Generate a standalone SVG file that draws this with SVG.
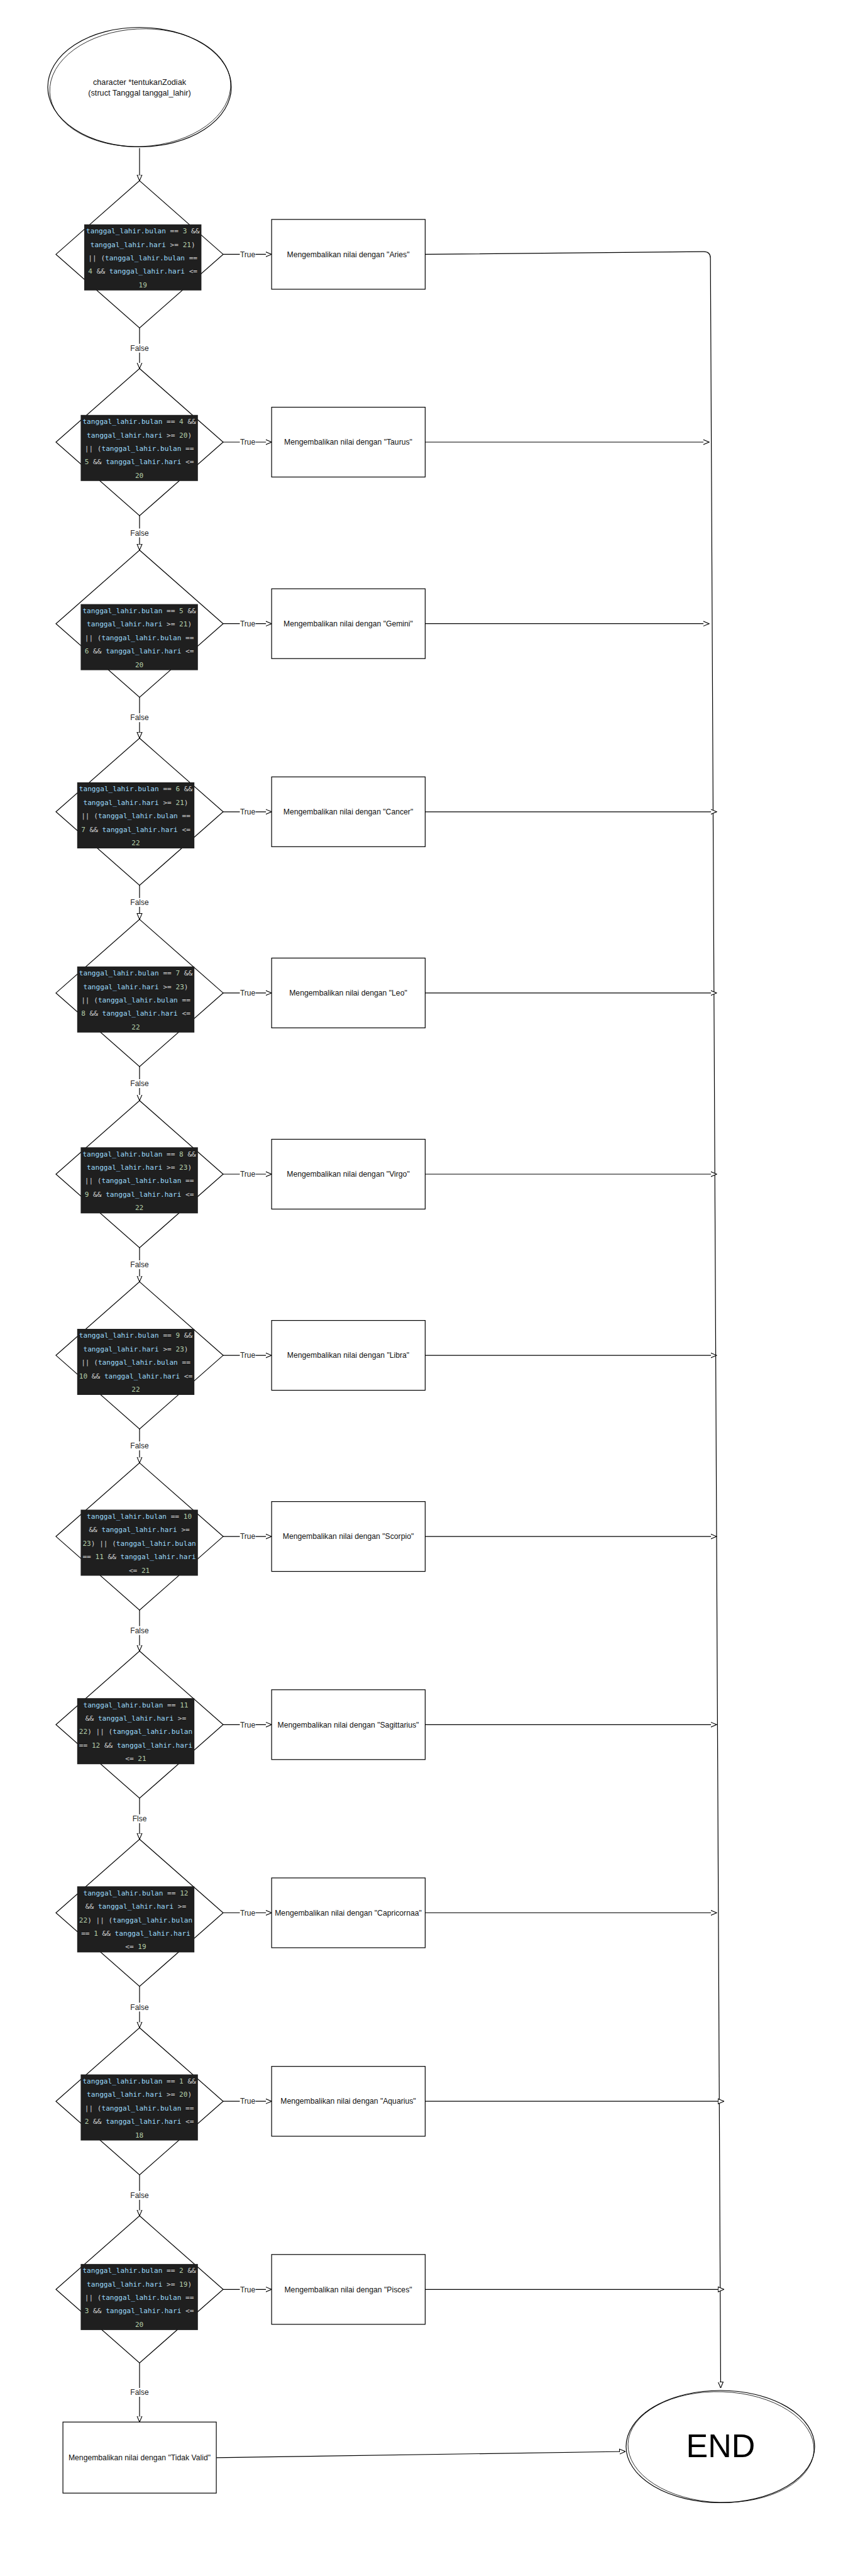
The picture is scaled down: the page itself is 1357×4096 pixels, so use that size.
<svg xmlns="http://www.w3.org/2000/svg" width="1357" height="4096" viewBox="0 0 1357 4096">
<style>
.sh{fill:#fff;stroke:#000;stroke-width:1.2}
.sk{fill:none;stroke:#000;stroke-width:0.8}
.cb{fill:#1f1f1f}
.code{font-family:"DejaVu Sans Mono","Liberation Mono",monospace;font-size:11.1px;fill:#D4D4D4;text-anchor:middle}
.v{fill:#9CDCFE}
.n{fill:#B5CEA8}
.bt{font-family:"Liberation Sans",Arial,sans-serif;font-size:12.2px;fill:#111;text-anchor:middle}
.st{font-family:"Liberation Sans",Arial,sans-serif;font-size:12.7px;fill:#111;text-anchor:middle}
.lb{font-family:"Liberation Sans",Arial,sans-serif;font-size:12px;fill:#222;text-anchor:middle}
.lbg{fill:#fff}
.ed{fill:none;stroke:#000;stroke-width:1.2}
</style>
<defs>
<marker id="arr" viewBox="0 0 10 10" refX="9.5" refY="5" markerWidth="10" markerHeight="10" orient="auto" markerUnits="userSpaceOnUse"><path d="M0,1 L9.5,5 L0,9 Z" fill="#fff" stroke="#000" stroke-width="1.1"/></marker>
</defs>
<rect width="1357" height="4096" fill="#fff"/>

<g id="connectors">
<path class="ed" d="M222,235.5 V287.4" marker-end="url(#arr)"/>
<path class="ed" d="M222,521.4 V586" marker-end="url(#arr)"/>
<path class="ed" d="M222,820 V874.7" marker-end="url(#arr)"/>
<path class="ed" d="M222,1108.7 V1173.8" marker-end="url(#arr)"/>
<path class="ed" d="M222,1407.8 V1461.9" marker-end="url(#arr)"/>
<path class="ed" d="M222,1695.9 V1750" marker-end="url(#arr)"/>
<path class="ed" d="M222,1984 V2038.1" marker-end="url(#arr)"/>
<path class="ed" d="M222,2272.1 V2326.1" marker-end="url(#arr)"/>
<path class="ed" d="M222,2560.1 V2625.3" marker-end="url(#arr)"/>
<path class="ed" d="M222,2859.3 V2924.5" marker-end="url(#arr)"/>
<path class="ed" d="M222,3158.5 V3224.2" marker-end="url(#arr)"/>
<path class="ed" d="M222,3458.2 V3523.3" marker-end="url(#arr)"/>
<path class="ed" d="M222,3757.3 V3851.2" marker-end="url(#arr)"/>

<path class="ed" d="M355,404.4 H432" marker-end="url(#arr)"/>
<path class="ed" d="M355,703 H432" marker-end="url(#arr)"/>
<path class="ed" d="M355,991.7 H432" marker-end="url(#arr)"/>
<path class="ed" d="M355,1290.8 H432" marker-end="url(#arr)"/>
<path class="ed" d="M355,1578.9 H432" marker-end="url(#arr)"/>
<path class="ed" d="M355,1867 H432" marker-end="url(#arr)"/>
<path class="ed" d="M355,2155.1 H432" marker-end="url(#arr)"/>
<path class="ed" d="M355,2443.1 H432" marker-end="url(#arr)"/>
<path class="ed" d="M355,2742.3 H432" marker-end="url(#arr)"/>
<path class="ed" d="M355,3041.5 H432" marker-end="url(#arr)"/>
<path class="ed" d="M355,3341.2 H432" marker-end="url(#arr)"/>
<path class="ed" d="M355,3640.3 H432" marker-end="url(#arr)"/>

<path class="ed" d="M676.4,404.4 L1119.5,400.2 Q1130.2,400.2 1130.2,410.5 L1146.5,3797" marker-end="url(#arr)"/>
<path class="ed" d="M676.4,703 H1128" marker-end="url(#arr)"/>
<path class="ed" d="M676.4,991.7 H1128" marker-end="url(#arr)"/>
<path class="ed" d="M676.4,1290.8 H1140" marker-end="url(#arr)"/>
<path class="ed" d="M676.4,1578.9 H1140" marker-end="url(#arr)"/>
<path class="ed" d="M676.4,1867 H1140" marker-end="url(#arr)"/>
<path class="ed" d="M676.4,2155.1 H1140" marker-end="url(#arr)"/>
<path class="ed" d="M676.4,2443.1 H1140" marker-end="url(#arr)"/>
<path class="ed" d="M676.4,2742.3 H1140" marker-end="url(#arr)"/>
<path class="ed" d="M676.4,3041.5 H1140" marker-end="url(#arr)"/>
<path class="ed" d="M676.4,3341.2 H1151.8" marker-end="url(#arr)"/>
<path class="ed" d="M676.4,3640.3 H1151.8" marker-end="url(#arr)"/>
<path class="ed" d="M344.1,3907.9 L995,3898" marker-end="url(#arr)"/>

<g id="edge-labels">
<rect class="lbg" x="381.5" y="397.4" width="25" height="14"/><text class="lb" x="394" y="408.6">True</text>
<rect class="lbg" x="381.5" y="696" width="25" height="14"/><text class="lb" x="394" y="707.2">True</text>
<rect class="lbg" x="381.5" y="984.7" width="25" height="14"/><text class="lb" x="394" y="995.9">True</text>
<rect class="lbg" x="381.5" y="1283.8" width="25" height="14"/><text class="lb" x="394" y="1295">True</text>
<rect class="lbg" x="381.5" y="1571.9" width="25" height="14"/><text class="lb" x="394" y="1583.1">True</text>
<rect class="lbg" x="381.5" y="1860" width="25" height="14"/><text class="lb" x="394" y="1871.2">True</text>
<rect class="lbg" x="381.5" y="2148.1" width="25" height="14"/><text class="lb" x="394" y="2159.3">True</text>
<rect class="lbg" x="381.5" y="2436.1" width="25" height="14"/><text class="lb" x="394" y="2447.3">True</text>
<rect class="lbg" x="381.5" y="2735.3" width="25" height="14"/><text class="lb" x="394" y="2746.5">True</text>
<rect class="lbg" x="381.5" y="3034.5" width="25" height="14"/><text class="lb" x="394" y="3045.7">True</text>
<rect class="lbg" x="381.5" y="3334.2" width="25" height="14"/><text class="lb" x="394" y="3345.4">True</text>
<rect class="lbg" x="381.5" y="3633.3" width="25" height="14"/><text class="lb" x="394" y="3644.5">True</text>

<rect class="lbg" x="206" y="546.7" width="32" height="14"/><text class="lb" x="222" y="557.9">False</text>
<rect class="lbg" x="206" y="840.4" width="32" height="14"/><text class="lb" x="222" y="851.6">False</text>
<rect class="lbg" x="206" y="1134.2" width="32" height="14"/><text class="lb" x="222" y="1145.4">False</text>
<rect class="lbg" x="206" y="1427.9" width="32" height="14"/><text class="lb" x="222" y="1439.1">False</text>
<rect class="lbg" x="206" y="1716" width="32" height="14"/><text class="lb" x="222" y="1727.2">False</text>
<rect class="lbg" x="206" y="2004" width="32" height="14"/><text class="lb" x="222" y="2015.2">False</text>
<rect class="lbg" x="206" y="2292.1" width="32" height="14"/><text class="lb" x="222" y="2303.3">False</text>
<rect class="lbg" x="206" y="2585.7" width="32" height="14"/><text class="lb" x="222" y="2596.9">False</text>
<rect class="lbg" x="209" y="2884.9" width="26" height="14"/><text class="lb" x="222" y="2896.1">Flse</text>
<rect class="lbg" x="206" y="3184.4" width="32" height="14"/><text class="lb" x="222" y="3195.6">False</text>
<rect class="lbg" x="206" y="3483.8" width="32" height="14"/><text class="lb" x="222" y="3495">False</text>
<rect class="lbg" x="206" y="3797" width="32" height="14"/><text class="lb" x="222" y="3808.2">False</text>
</g>
</g>

<g id="start">
<ellipse class="sh" cx="222" cy="138.5" rx="146" ry="95"/>
<ellipse class="sk" cx="223" cy="139.5" rx="144" ry="93.5" transform="rotate(-3 222 138.5)"/>
<text class="st" x="222" y="134.6">character *tentukanZodiak</text>
<text class="st" x="222" y="152.4">(struct Tanggal tanggal_lahir)</text>
</g>

<g id="d1">
<polygon class="sh" points="222,287.4 355,404.4 222,521.4 89,404.4"/>
<g transform="translate(227.2,356.8)"><rect class="cb" x="-93.2" y="0" width="186.4" height="105"/>
<text class="code" xml:space="preserve" y="14.4"><tspan class="v">tanggal_lahir.bulan</tspan> == <tspan class="n">3</tspan> &amp;&amp;</text>
<text class="code" xml:space="preserve" y="35.8"><tspan class="v">tanggal_lahir.hari</tspan> &gt;= <tspan class="n">21</tspan>)</text>
<text class="code" xml:space="preserve" y="57.2">|| (<tspan class="v">tanggal_lahir.bulan</tspan> ==</text>
<text class="code" xml:space="preserve" y="78.6"><tspan class="n">4</tspan> &amp;&amp; <tspan class="v">tanggal_lahir.hari</tspan> &lt;=</text>
<text class="code" xml:space="preserve" y="100"><tspan class="n">19</tspan></text></g>
</g>
<g id="r1"><rect class="sh" x="432.1" y="348.9" width="244.3" height="111"/><text class="bt" x="554" y="408.6">Mengembalikan nilai dengan "Aries"</text></g>

<g id="d2">
<polygon class="sh" points="222,586 355,703 222,820 89,703"/>
<g transform="translate(221.6,659.8)"><rect class="cb" x="-93.2" y="0" width="186.4" height="105"/>
<text class="code" xml:space="preserve" y="14.4"><tspan class="v">tanggal_lahir.bulan</tspan> == <tspan class="n">4</tspan> &amp;&amp;</text>
<text class="code" xml:space="preserve" y="35.8"><tspan class="v">tanggal_lahir.hari</tspan> &gt;= <tspan class="n">20</tspan>)</text>
<text class="code" xml:space="preserve" y="57.2">|| (<tspan class="v">tanggal_lahir.bulan</tspan> ==</text>
<text class="code" xml:space="preserve" y="78.6"><tspan class="n">5</tspan> &amp;&amp; <tspan class="v">tanggal_lahir.hari</tspan> &lt;=</text>
<text class="code" xml:space="preserve" y="100"><tspan class="n">20</tspan></text></g>
</g>
<g id="r2"><rect class="sh" x="432.1" y="647.5" width="244.3" height="111"/><text class="bt" x="554" y="707.2">Mengembalikan nilai dengan "Taurus"</text></g>

<g id="d3">
<polygon class="sh" points="222,874.7 355,991.7 222,1108.7 89,991.7"/>
<g transform="translate(221.6,960.6)"><rect class="cb" x="-93.2" y="0" width="186.4" height="105"/>
<text class="code" xml:space="preserve" y="14.4"><tspan class="v">tanggal_lahir.bulan</tspan> == <tspan class="n">5</tspan> &amp;&amp;</text>
<text class="code" xml:space="preserve" y="35.8"><tspan class="v">tanggal_lahir.hari</tspan> &gt;= <tspan class="n">21</tspan>)</text>
<text class="code" xml:space="preserve" y="57.2">|| (<tspan class="v">tanggal_lahir.bulan</tspan> ==</text>
<text class="code" xml:space="preserve" y="78.6"><tspan class="n">6</tspan> &amp;&amp; <tspan class="v">tanggal_lahir.hari</tspan> &lt;=</text>
<text class="code" xml:space="preserve" y="100"><tspan class="n">20</tspan></text></g>
</g>
<g id="r3"><rect class="sh" x="432.1" y="936.2" width="244.3" height="111"/><text class="bt" x="554" y="995.9">Mengembalikan nilai dengan "Gemini"</text></g>

<g id="d4">
<polygon class="sh" points="222,1173.8 355,1290.8 222,1407.8 89,1290.8"/>
<g transform="translate(216,1244)"><rect class="cb" x="-93.2" y="0" width="186.4" height="105"/>
<text class="code" xml:space="preserve" y="14.4"><tspan class="v">tanggal_lahir.bulan</tspan> == <tspan class="n">6</tspan> &amp;&amp;</text>
<text class="code" xml:space="preserve" y="35.8"><tspan class="v">tanggal_lahir.hari</tspan> &gt;= <tspan class="n">21</tspan>)</text>
<text class="code" xml:space="preserve" y="57.2">|| (<tspan class="v">tanggal_lahir.bulan</tspan> ==</text>
<text class="code" xml:space="preserve" y="78.6"><tspan class="n">7</tspan> &amp;&amp; <tspan class="v">tanggal_lahir.hari</tspan> &lt;=</text>
<text class="code" xml:space="preserve" y="100"><tspan class="n">22</tspan></text></g>
</g>
<g id="r4"><rect class="sh" x="432.1" y="1235.3" width="244.3" height="111"/><text class="bt" x="554" y="1295">Mengembalikan nilai dengan "Cancer"</text></g>

<g id="d5">
<polygon class="sh" points="222,1461.9 355,1578.9 222,1695.9 89,1578.9"/>
<g transform="translate(216,1536.8)"><rect class="cb" x="-93.2" y="0" width="186.4" height="105"/>
<text class="code" xml:space="preserve" y="14.4"><tspan class="v">tanggal_lahir.bulan</tspan> == <tspan class="n">7</tspan> &amp;&amp;</text>
<text class="code" xml:space="preserve" y="35.8"><tspan class="v">tanggal_lahir.hari</tspan> &gt;= <tspan class="n">23</tspan>)</text>
<text class="code" xml:space="preserve" y="57.2">|| (<tspan class="v">tanggal_lahir.bulan</tspan> ==</text>
<text class="code" xml:space="preserve" y="78.6"><tspan class="n">8</tspan> &amp;&amp; <tspan class="v">tanggal_lahir.hari</tspan> &lt;=</text>
<text class="code" xml:space="preserve" y="100"><tspan class="n">22</tspan></text></g>
</g>
<g id="r5"><rect class="sh" x="432.1" y="1523.4" width="244.3" height="111"/><text class="bt" x="554" y="1583.1">Mengembalikan nilai dengan "Leo"</text></g>

<g id="d6">
<polygon class="sh" points="222,1750 355,1867 222,1984 89,1867"/>
<g transform="translate(221.6,1824.3)"><rect class="cb" x="-93.2" y="0" width="186.4" height="105"/>
<text class="code" xml:space="preserve" y="14.4"><tspan class="v">tanggal_lahir.bulan</tspan> == <tspan class="n">8</tspan> &amp;&amp;</text>
<text class="code" xml:space="preserve" y="35.8"><tspan class="v">tanggal_lahir.hari</tspan> &gt;= <tspan class="n">23</tspan>)</text>
<text class="code" xml:space="preserve" y="57.2">|| (<tspan class="v">tanggal_lahir.bulan</tspan> ==</text>
<text class="code" xml:space="preserve" y="78.6"><tspan class="n">9</tspan> &amp;&amp; <tspan class="v">tanggal_lahir.hari</tspan> &lt;=</text>
<text class="code" xml:space="preserve" y="100"><tspan class="n">22</tspan></text></g>
</g>
<g id="r6"><rect class="sh" x="432.1" y="1811.5" width="244.3" height="111"/><text class="bt" x="554" y="1871.2">Mengembalikan nilai dengan "Virgo"</text></g>

<g id="d7">
<polygon class="sh" points="222,2038.1 355,2155.1 222,2272.1 89,2155.1"/>
<g transform="translate(216,2113)"><rect class="cb" x="-93.2" y="0" width="186.4" height="105"/>
<text class="code" xml:space="preserve" y="14.4"><tspan class="v">tanggal_lahir.bulan</tspan> == <tspan class="n">9</tspan> &amp;&amp;</text>
<text class="code" xml:space="preserve" y="35.8"><tspan class="v">tanggal_lahir.hari</tspan> &gt;= <tspan class="n">23</tspan>)</text>
<text class="code" xml:space="preserve" y="57.2">|| (<tspan class="v">tanggal_lahir.bulan</tspan> ==</text>
<text class="code" xml:space="preserve" y="78.6"><tspan class="n">10</tspan> &amp;&amp; <tspan class="v">tanggal_lahir.hari</tspan> &lt;=</text>
<text class="code" xml:space="preserve" y="100"><tspan class="n">22</tspan></text></g>
</g>
<g id="r7"><rect class="sh" x="432.1" y="2099.6" width="244.3" height="111"/><text class="bt" x="554" y="2159.3">Mengembalikan nilai dengan "Libra"</text></g>

<g id="d8">
<polygon class="sh" points="222,2326.1 355,2443.1 222,2560.1 89,2443.1"/>
<g transform="translate(221.6,2400.5)"><rect class="cb" x="-93.2" y="0" width="186.4" height="105"/>
<text class="code" xml:space="preserve" y="14.4"><tspan class="v">tanggal_lahir.bulan</tspan> == <tspan class="n">10</tspan></text>
<text class="code" xml:space="preserve" y="35.8">&amp;&amp; <tspan class="v">tanggal_lahir.hari</tspan> &gt;=</text>
<text class="code" xml:space="preserve" y="57.2"><tspan class="n">23</tspan>) || (<tspan class="v">tanggal_lahir.bulan</tspan></text>
<text class="code" xml:space="preserve" y="78.6">== <tspan class="n">11</tspan> &amp;&amp; <tspan class="v">tanggal_lahir.hari</tspan></text>
<text class="code" xml:space="preserve" y="100">&lt;= <tspan class="n">21</tspan></text></g>
</g>
<g id="r8"><rect class="sh" x="432.1" y="2387.6" width="244.3" height="111"/><text class="bt" x="554" y="2447.3">Mengembalikan nilai dengan "Scorpio"</text></g>

<g id="d9">
<polygon class="sh" points="222,2625.3 355,2742.3 222,2859.3 89,2742.3"/>
<g transform="translate(216,2700.2)"><rect class="cb" x="-93.2" y="0" width="186.4" height="105"/>
<text class="code" xml:space="preserve" y="14.4"><tspan class="v">tanggal_lahir.bulan</tspan> == <tspan class="n">11</tspan></text>
<text class="code" xml:space="preserve" y="35.8">&amp;&amp; <tspan class="v">tanggal_lahir.hari</tspan> &gt;=</text>
<text class="code" xml:space="preserve" y="57.2"><tspan class="n">22</tspan>) || (<tspan class="v">tanggal_lahir.bulan</tspan></text>
<text class="code" xml:space="preserve" y="78.6">== <tspan class="n">12</tspan> &amp;&amp; <tspan class="v">tanggal_lahir.hari</tspan></text>
<text class="code" xml:space="preserve" y="100">&lt;= <tspan class="n">21</tspan></text></g>
</g>
<g id="r9"><rect class="sh" x="432.1" y="2686.8" width="244.3" height="111"/><text class="bt" x="554" y="2746.5">Mengembalikan nilai dengan "Sagittarius"</text></g>

<g id="d10">
<polygon class="sh" points="222,2924.5 355,3041.5 222,3158.5 89,3041.5"/>
<g transform="translate(216,2999.4)"><rect class="cb" x="-93.2" y="0" width="186.4" height="105"/>
<text class="code" xml:space="preserve" y="14.4"><tspan class="v">tanggal_lahir.bulan</tspan> == <tspan class="n">12</tspan></text>
<text class="code" xml:space="preserve" y="35.8">&amp;&amp; <tspan class="v">tanggal_lahir.hari</tspan> &gt;=</text>
<text class="code" xml:space="preserve" y="57.2"><tspan class="n">22</tspan>) || (<tspan class="v">tanggal_lahir.bulan</tspan></text>
<text class="code" xml:space="preserve" y="78.6">== <tspan class="n">1</tspan> &amp;&amp; <tspan class="v">tanggal_lahir.hari</tspan></text>
<text class="code" xml:space="preserve" y="100">&lt;= <tspan class="n">19</tspan></text></g>
</g>
<g id="r10"><rect class="sh" x="432.1" y="2986" width="244.3" height="111"/><text class="bt" x="554" y="3045.7">Mengembalikan nilai dengan "Capricornaa"</text></g>

<g id="d11">
<polygon class="sh" points="222,3224.2 355,3341.2 222,3458.2 89,3341.2"/>
<g transform="translate(221.6,3298.5)"><rect class="cb" x="-93.2" y="0" width="186.4" height="105"/>
<text class="code" xml:space="preserve" y="14.4"><tspan class="v">tanggal_lahir.bulan</tspan> == <tspan class="n">1</tspan> &amp;&amp;</text>
<text class="code" xml:space="preserve" y="35.8"><tspan class="v">tanggal_lahir.hari</tspan> &gt;= <tspan class="n">20</tspan>)</text>
<text class="code" xml:space="preserve" y="57.2">|| (<tspan class="v">tanggal_lahir.bulan</tspan> ==</text>
<text class="code" xml:space="preserve" y="78.6"><tspan class="n">2</tspan> &amp;&amp; <tspan class="v">tanggal_lahir.hari</tspan> &lt;=</text>
<text class="code" xml:space="preserve" y="100"><tspan class="n">18</tspan></text></g>
</g>
<g id="r11"><rect class="sh" x="432.1" y="3285.7" width="244.3" height="111"/><text class="bt" x="554" y="3345.4">Mengembalikan nilai dengan "Aquarius"</text></g>

<g id="d12">
<polygon class="sh" points="222,3523.3 355,3640.3 222,3757.3 89,3640.3"/>
<g transform="translate(221.6,3599.9)"><rect class="cb" x="-93.2" y="0" width="186.4" height="105"/>
<text class="code" xml:space="preserve" y="14.4"><tspan class="v">tanggal_lahir.bulan</tspan> == <tspan class="n">2</tspan> &amp;&amp;</text>
<text class="code" xml:space="preserve" y="35.8"><tspan class="v">tanggal_lahir.hari</tspan> &gt;= <tspan class="n">19</tspan>)</text>
<text class="code" xml:space="preserve" y="57.2">|| (<tspan class="v">tanggal_lahir.bulan</tspan> ==</text>
<text class="code" xml:space="preserve" y="78.6"><tspan class="n">3</tspan> &amp;&amp; <tspan class="v">tanggal_lahir.hari</tspan> &lt;=</text>
<text class="code" xml:space="preserve" y="100"><tspan class="n">20</tspan></text></g>
</g>
<g id="r12"><rect class="sh" x="432.1" y="3584.8" width="244.3" height="111"/><text class="bt" x="554" y="3644.5">Mengembalikan nilai dengan "Pisces"</text></g>

<g id="invalid"><rect class="sh" x="100.1" y="3851.2" width="244" height="113"/><text class="bt" x="222" y="3912">Mengembalikan nilai dengan "Tidak Valid"</text></g>

<g id="end">
<ellipse class="sh" cx="1146" cy="3890.2" rx="150" ry="89.2"/>
<ellipse class="sk" cx="1147" cy="3891" rx="148" ry="88" transform="rotate(2 1146 3890)"/>
<text x="1146.5" y="3907.4" style="font-family:'Liberation Sans',Arial,sans-serif;font-size:52px;fill:#000;text-anchor:middle">END</text>
</g>
</svg>
